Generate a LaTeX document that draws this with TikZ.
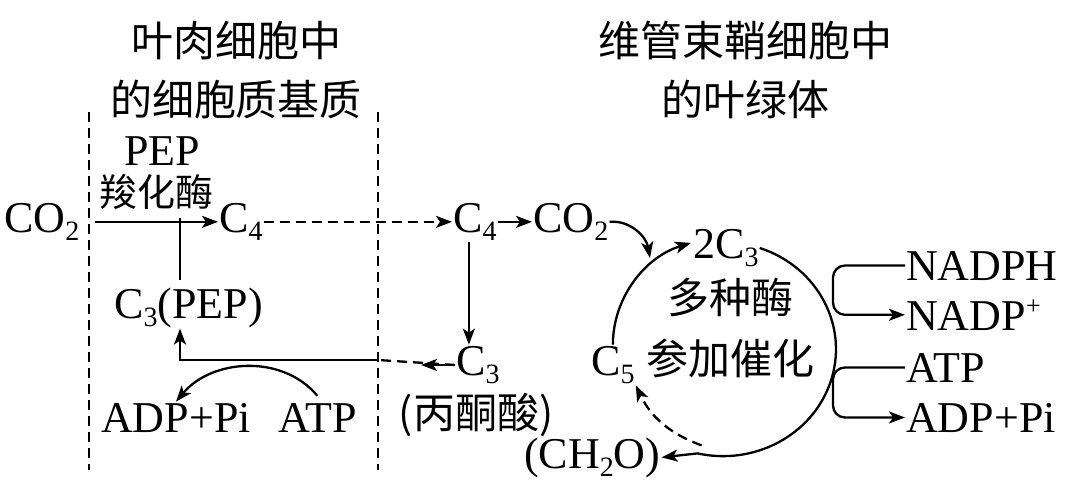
\documentclass[tikz,border=0pt]{standalone}
\usepackage{fontspec}
\setmainfont{Liberation Serif}
\newfontfamily\cjk{Noto Sans CJK SC}
\usetikzlibrary{positioning, arrows.meta}
\newcommand{\sub}[1]{\raisebox{-0.2em}{\fontsize{28}{28}\selectfont #1}}
\newcommand{\sps}[1]{\raisebox{0.36em}{\fontsize{26}{26}\selectfont #1}}
\tikzstyle{lab}=[inner sep=1pt,anchor=base west,font=\fontsize{44}{48}\selectfont]
\tikzstyle{zh}=[inner sep=1pt,font=\fontsize{42}{48}\selectfont\cjk]
\tikzstyle{head}=[inner sep=1pt,align=center,font=\fontsize{42}{59}\selectfont\cjk]
\tikzstyle{wall}=[line width=2pt,dash pattern=on 10pt off 6pt]
\tikzstyle{flow}=[line width=2.3pt,-{Stealth[length=16pt,width=12pt,inset=4pt]}]
\tikzstyle{dflow}=[flow,dash pattern=on 10pt off 6pt]

\begin{document}
\begin{tikzpicture}[x=1pt,y=1pt]
  \useasboundingbox (0,0) rectangle (1080,-485);
  % headings
  \node[head] (meso) at (236,-70) {叶肉细胞中\\的细胞质基质};
  \node[head] (bund) at (745,-70) {维管束鞘细胞中\\的叶绿体};
  \foreach \xw in {89,378}
    \draw[wall] (\xw,-112) -- (\xw,-470);
  \coordinate (wr) at (378,-360);
  \coordinate (jn) at (180,-218);
  \coordinate (turn) at (180,-360);

  % mesophyll side
  \node[lab] (co2a) at (3,-232) {CO\sub{2}};
  \node[lab] (pep) at (123,-165) {PEP};
  \node[zh,font=\fontsize{38}{44}\selectfont\cjk] (pepc) at (156,-192) {羧化酶};
  \node[lab] (c4a) at (218,-232) {C\sub{4}};
  \node[lab] (c3p) at (113,-318) {C\sub{3}(PEP)};
  \node[lab] (adpL) at (100,-432) {ADP+Pi};
  \node[lab] (atpL) at (277,-432) {ATP};

  % bundle sheath side
  \node[lab] (c4b) at (452,-232) {C\sub{4}};
  \node[lab] (co2b) at (532,-232) {CO\sub{2}};
  \node[lab] (c3b) at (455,-375) {C\sub{3}};
  \node[zh,inner sep=0pt] (pyr) at (476,-415) {(丙酮酸)};
  \node[lab] (c23) at (692,-258) {2C\sub{3}};
  \node[zh] (enz) at (730,-298) {多种酶};
  \node[lab] (c5) at (590,-375) {C\sub{5}};
  \node[zh] (cat) at (730,-358) {参加催化};
  \node[lab] (ch2o) at (523,-468) {(CH\sub{2}O)};
  \coordinate (hit) at (650,-258);
  \foreach \nm/\yy/\tx in {nadph/280/NADPH, nadp/330/NADP\sps{+}, atpR/382/ATP, adpR/432/ADP+Pi}
    \node[lab] (\nm) at (905,-\yy) {\tx};

  % arrows
  \draw[flow] (co2a.east) ++(14,0) -- (c4a.west);
  \draw[line width=2.3pt] (jn) -- ++(0,-62);
  \draw[dflow] (c4a.east) -- (c4b.west);
  \draw[flow] (c4b.east) -- (co2b.west);
  \draw[flow] ([xshift=-6pt]c4b.south) -- ([xshift=-6pt]c4b.south |- c3b.north);
  \draw[wall,line width=2.3pt] (c3b.west) -- (wr);
  \draw[flow] (c3b.west) -- ++(-34,0);
  \draw[flow] (wr) -- (turn) -- (turn |- c3p.south);
  \draw[flow] ([yshift=6pt]atpL.north) to[out=130,in=50] (adpL.north);
  \draw[flow] (co2b.east) to[out=5,in=100] (hit);
  \draw[flow] (c5.north) arc[start angle=180,end angle=108,x radius=113,y radius=107];
  \draw[flow] (c23.east) arc[start angle=71,end angle=-103,x radius=113,y radius=107] -- (ch2o.east);
  \draw[dflow] (ch2o.east) ++(40,12) to[bend left=22] (c5.south east);
  \draw[flow,rounded corners=12pt] (nadph.west) -- ++(-72,0) |- (nadp.west);
  \draw[flow,rounded corners=12pt] (atpR.west) -- ++(-72,0) |- (adpR.west);
\end{tikzpicture}
\end{document}
